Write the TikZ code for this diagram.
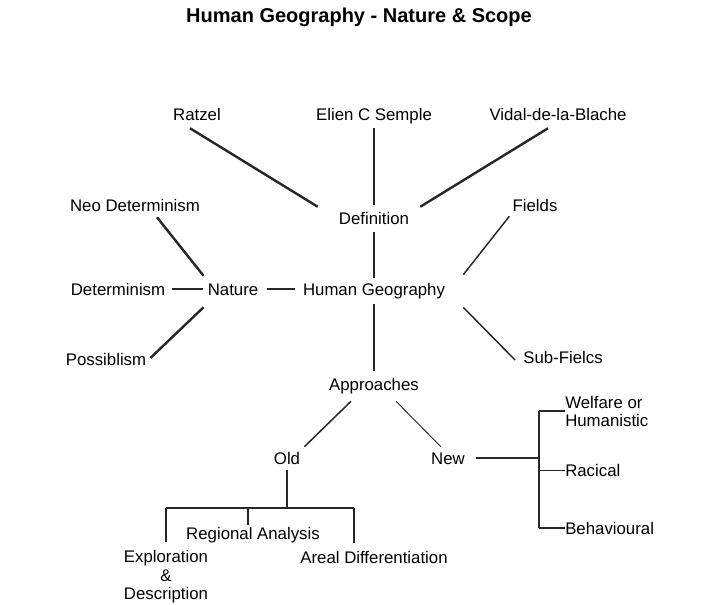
\documentclass[tikz,border=0pt]{standalone}
\usepackage{fontspec}
\setmainfont{Liberation Sans}
\usetikzlibrary{calc}

\begin{document}
\begin{tikzpicture}[
    x=0.75pt, y=-0.75pt,
    font=\fontsize{12.6}{13.5}\selectfont,
    every node/.style={inner sep=0pt},
    lbl/.style={text height=9pt, text depth=0pt},
    heavy/.style={line width=1.8pt, black!85},
    medium/.style={line width=1.1pt, black!85},
    fine/.style={line width=0.7pt, black!85},
]
\useasboundingbox (0,0) rectangle (702,604);

\node[font=\fontsize{15}{18}\selectfont\bfseries] (title) at (359,17) {Human Geography - Nature \& Scope};

\node[lbl] (ratzel) at (197,114) {Ratzel};
\node[lbl] (semple) at (374,114) {Elien C Semple};
\node[lbl] (vidal)  at (558,114) {Vidal-de-la-Blache};
\node[lbl] (def)    at (374,218) {Definition};
\node[lbl] (neodet) at (135,205) {Neo Determinism};
\node[lbl] (fields) at (535,205) {Fields};
\node[lbl] (det)    at (118,289) {Determinism};
\node[lbl] (nature) at (233,289) {Nature};
\node[lbl] (hg)     at (374,289) {Human Geography};
\node[lbl] (poss)   at (106,359) {Possiblism};
\node[lbl] (subf)   at (563,357) {Sub-Fielcs};
\node[lbl] (appr)   at (374,384) {Approaches};
\node[lbl] (old)    at (287,458) {Old};
\node[lbl] (new)    at (448,458) {New};

\draw[heavy] ($(ratzel.south)+(-7,8)$) -- ($(def.north west)+(-21,-5)$);
\draw[heavy, shorten <=6pt, shorten >=5.25pt] (semple) -- (def);
\draw[heavy] ($(vidal.south)+(-10,8)$) -- ($(def.north east)+(11,-5)$);
\draw[heavy, shorten <=6pt, shorten >=3.75pt] (def) -- (hg);
\draw[heavy, shorten <=6.75pt, shorten >=5.25pt] (hg) -- (appr);

\draw[heavy] ($(neodet.south)+(22,6)$) -- ($(nature.north west)+(-4,-7)$);
\draw[medium, shorten <=5.25pt, shorten >=3.75pt] (det) -- (nature);
\draw[medium, shorten <=6.75pt, shorten >=6pt] (nature) -- (hg);
\draw[heavy] ($(poss.east)+(4,-1)$) -- ($(nature.south west)+(-4,12)$);

\draw[medium] ($(fields.south west)+(-3,5)$) -- ($(hg.north east)+(18,-8)$);
\draw[medium] ($(hg.south east)+(18,12)$) -- ($(subf.west)+(-8,3)$);

\draw[medium] ($(appr.south)+(-23,11)$) -- ($(old.north east)+(4,-5)$);
\draw[fine]   ($(appr.south)+(22,11)$) -- ($(new.north west)+(10,-5)$);

% old approaches
\node[lbl] (region) at (253,533) {Regional Analysis};
\node[align=center, font=\fontsize{12.6}{13.9}\selectfont] (explor) at (166,577) {Exploration\\\&\\Description};
\node[lbl] (areal) at (374,557) {Areal Differentiation};

\coordinate (oldjoin) at (287,508);
\coordinate (bar-l) at (166,508);
\coordinate (bar-m) at (248,508);
\coordinate (bar-r) at (354,508);

\draw[heavy, shorten <=4.5pt] (old) -- (oldjoin);
\draw[heavy] (bar-l) -- (bar-r);
\draw[heavy, shorten >=6pt] (bar-l) -- (bar-l |- explor.north);
\draw[medium, shorten >=1.5pt] (bar-m) -- (bar-m |- region.north);
\draw[heavy, shorten >=6pt] (bar-r) -- (bar-r |- areal.north);

% new approaches
\node[anchor=west, align=left] (welfare) at (565,411) {Welfare or\\Humanistic};
\node[lbl, anchor=west] (racical) at (565,470) {Racical};
\node[lbl, anchor=west] (behav)   at (565,528) {Behavioural};

\coordinate (brk) at (539,458);

\draw[medium, shorten <=8.25pt] (new) -- (brk);
\draw[heavy] (welfare.west -| brk) -- (behav.west -| brk);
\draw[medium] (welfare.west -| brk) -- (welfare.west);
\draw[fine]   (racical.west -| brk) -- (racical.west);
\draw[medium] (behav.west -| brk) -- (behav.west);

\end{tikzpicture}
\end{document}
